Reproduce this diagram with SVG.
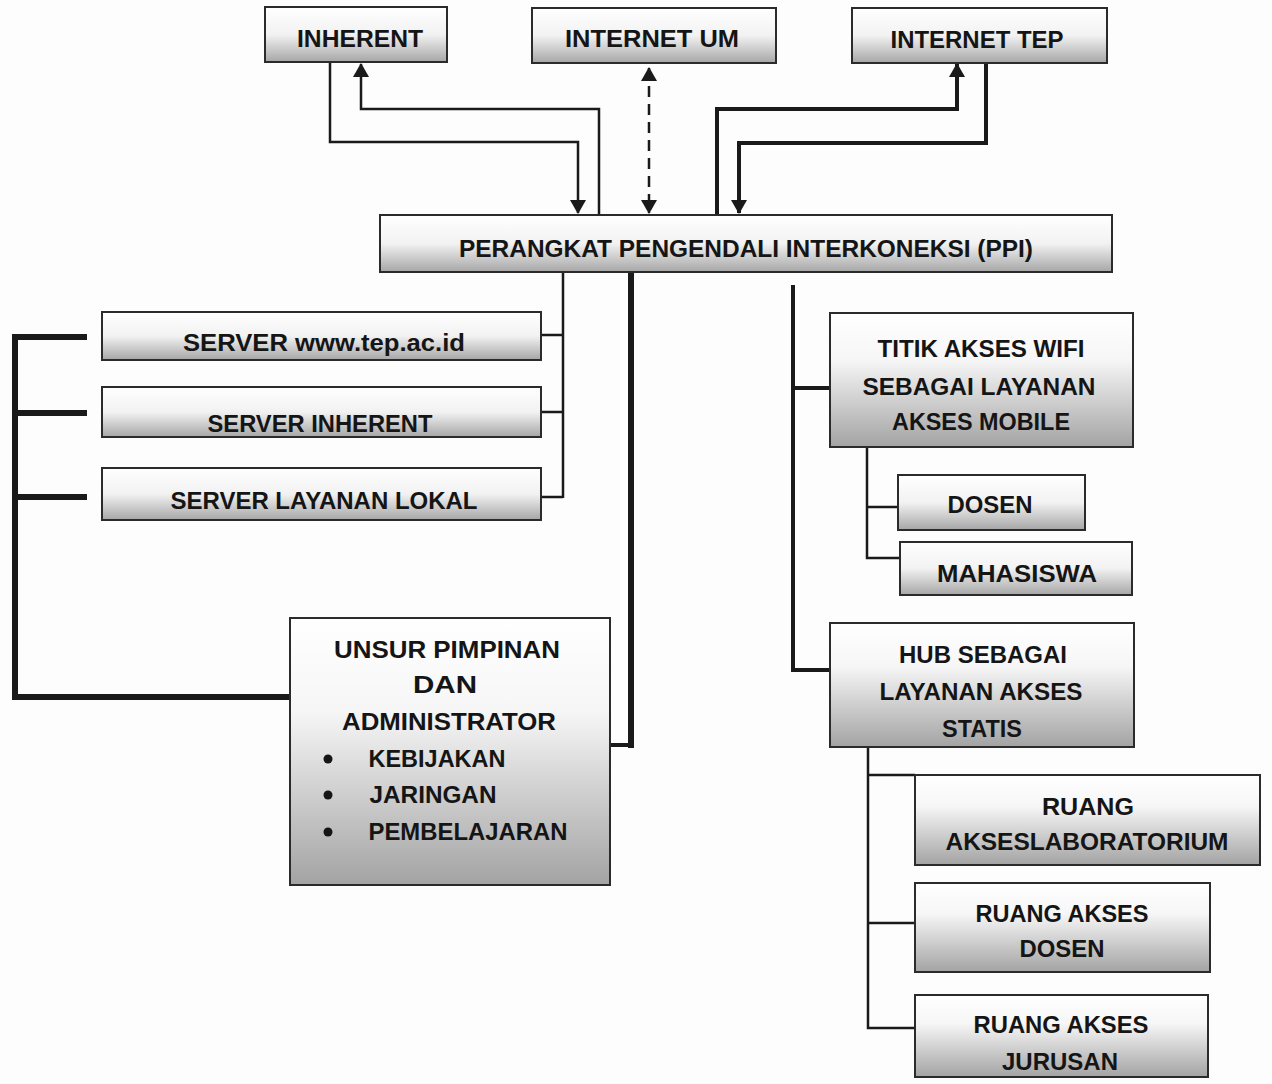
<svg xmlns="http://www.w3.org/2000/svg" width="1272" height="1084" viewBox="0 0 1272 1084">
<defs>
<linearGradient id="g1" x1="0" y1="0" x2="0" y2="1">
<stop offset="0" stop-color="#ffffff"/>
<stop offset="0.5" stop-color="#f2f2f2"/>
<stop offset="1" stop-color="#a6a6a6"/>
</linearGradient>
<linearGradient id="g2" x1="0" y1="0" x2="0" y2="1">
<stop offset="0" stop-color="#ffffff"/>
<stop offset="0.35" stop-color="#f6f6f6"/>
<stop offset="1" stop-color="#a3a3a3"/>
</linearGradient>
<marker id="ah" viewBox="0 0 14 16" markerWidth="14" markerHeight="16" refX="13" refY="8" orient="auto-start-reverse" markerUnits="userSpaceOnUse">
<path d="M0,0 L14,8 L0,16 z" fill="#1a1a1a"/>
</marker>
<style>
.box{stroke:#2b2b2b;stroke-width:2}
.b1{fill:url(#g1)}
.b2{fill:url(#g2)}
text{font-family:"Liberation Sans",Arial,sans-serif;font-weight:bold;font-size:23px;fill:#151515;text-anchor:middle}
.ln{fill:none;stroke:#1a1a1a;stroke-width:2.5}
.lt{fill:none;stroke:#1a1a1a;stroke-width:4}
.lk{fill:none;stroke:#1a1a1a;stroke-width:6}
</style>
</defs>
<rect width="1272" height="1084" fill="#fdfdfd"/>

<g id="connectors">
<path class="ln" d="M330,63 V142 H578 V213" marker-end="url(#ah)"/>
<path class="ln" d="M599,215 V109 H361 V64" marker-end="url(#ah)"/>
<path class="ln" d="M649,68 V213" stroke-dasharray="11 7" stroke-width="3" marker-start="url(#ah)" marker-end="url(#ah)"/>
<path class="lt" d="M717,215 V109 H957 V64" marker-end="url(#ah)"/>
<path class="lt" d="M986,63 V143 H739 V213" marker-end="url(#ah)"/>
<path class="ln" d="M563,272 V498 M541,335 H563 M541,412 H563 M541,497 H563" stroke-width="3"/>
<path class="lk" d="M631,272 V748" stroke-width="7"/>
<path class="lt" d="M610,745 H634"/>
<path class="lk" d="M15,334 V700 M12,697 H290"/>
<path class="lk" d="M15,337 H87 M15,413 H87 M15,497 H87" stroke-width="7"/>
<path class="lt" d="M793,285 V670 H830 M793,388 H830"/>
<path class="ln" d="M867,447 V558 H900 M867,507 H898" stroke-width="3"/>
<path class="ln" d="M868,747 V1028 H915 M868,775 H915 M868,923 H915" stroke-width="3"/>
</g>

<g id="n-inherent"><rect class="box b1" x="265" y="7" width="182" height="55"/><text x="360" y="47" textLength="126" lengthAdjust="spacingAndGlyphs">INHERENT</text></g>
<g id="n-internet-um"><rect class="box b1" x="532" y="8" width="244" height="55"/><text x="652" y="47" textLength="174" lengthAdjust="spacingAndGlyphs">INTERNET UM</text></g>
<g id="n-internet-tep"><rect class="box b1" x="852" y="8" width="255" height="55"/><text x="977" y="48" textLength="173" lengthAdjust="spacingAndGlyphs">INTERNET TEP</text></g>
<g id="n-ppi"><rect class="box b1" x="380" y="215" width="732" height="57"/><text x="746" y="257" textLength="574" lengthAdjust="spacingAndGlyphs">PERANGKAT PENGENDALI INTERKONEKSI (PPI)</text></g>

<g id="n-server-tep"><rect class="box b1" x="102" y="312" width="439" height="48"/><text x="324" y="351" textLength="282" lengthAdjust="spacingAndGlyphs">SERVER www.tep.ac.id</text></g>
<g id="n-server-inherent"><rect class="box b1" x="102" y="387" width="439" height="50"/><text x="320" y="432" textLength="225" lengthAdjust="spacingAndGlyphs">SERVER INHERENT</text></g>
<g id="n-server-lokal"><rect class="box b1" x="102" y="468" width="439" height="52"/><text x="324" y="509" textLength="307" lengthAdjust="spacingAndGlyphs">SERVER LAYANAN LOKAL</text></g>

<g id="n-unsur"><rect class="box b2" x="290" y="618" width="320" height="267"/>
<text x="447" y="658" textLength="226" lengthAdjust="spacingAndGlyphs">UNSUR PIMPINAN</text>
<text x="445" y="693" textLength="64" lengthAdjust="spacingAndGlyphs">DAN</text>
<text x="449" y="730" textLength="214" lengthAdjust="spacingAndGlyphs">ADMINISTRATOR</text>
<circle cx="328" cy="759" r="4.5" fill="#151515"/>
<circle cx="328" cy="795" r="4.5" fill="#151515"/>
<circle cx="328" cy="832" r="4.5" fill="#151515"/>
<text x="437" y="767" textLength="137" lengthAdjust="spacingAndGlyphs">KEBIJAKAN</text>
<text x="433" y="803" textLength="127" lengthAdjust="spacingAndGlyphs">JARINGAN</text>
<text x="468" y="840" textLength="199" lengthAdjust="spacingAndGlyphs">PEMBELAJARAN</text>
</g>

<g id="n-titik"><rect class="box b2" x="830" y="313" width="303" height="134"/>
<text x="981" y="357" textLength="207" lengthAdjust="spacingAndGlyphs">TITIK AKSES WIFI</text>
<text x="979" y="395" textLength="233" lengthAdjust="spacingAndGlyphs">SEBAGAI LAYANAN</text>
<text x="981" y="430" textLength="178" lengthAdjust="spacingAndGlyphs">AKSES MOBILE</text>
</g>
<g id="n-dosen"><rect class="box b1" x="898" y="475" width="187" height="55"/><text x="990" y="513" textLength="85" lengthAdjust="spacingAndGlyphs">DOSEN</text></g>
<g id="n-mahasiswa"><rect class="box b1" x="900" y="542" width="232" height="53"/><text x="1017" y="582" textLength="160" lengthAdjust="spacingAndGlyphs">MAHASISWA</text></g>

<g id="n-hub"><rect class="box b2" x="830" y="623" width="304" height="124"/>
<text x="983" y="663" textLength="168" lengthAdjust="spacingAndGlyphs">HUB SEBAGAI</text>
<text x="981" y="700" textLength="203" lengthAdjust="spacingAndGlyphs">LAYANAN AKSES</text>
<text x="982" y="737" textLength="80" lengthAdjust="spacingAndGlyphs">STATIS</text>
</g>
<g id="n-ruang-lab"><rect class="box b2" x="915" y="775" width="345" height="90"/>
<text x="1088" y="815" textLength="92" lengthAdjust="spacingAndGlyphs">RUANG</text>
<text x="1087" y="850" textLength="283" lengthAdjust="spacingAndGlyphs">AKSESLABORATORIUM</text>
</g>
<g id="n-ruang-dosen"><rect class="box b2" x="915" y="883" width="295" height="89"/>
<text x="1062" y="922" textLength="173" lengthAdjust="spacingAndGlyphs">RUANG AKSES</text>
<text x="1062" y="957" textLength="85" lengthAdjust="spacingAndGlyphs">DOSEN</text>
</g>
<g id="n-ruang-jurusan"><rect class="box b2" x="915" y="995" width="293" height="82"/>
<text x="1061" y="1033" textLength="175" lengthAdjust="spacingAndGlyphs">RUANG AKSES</text>
<text x="1060" y="1070" textLength="116" lengthAdjust="spacingAndGlyphs">JURUSAN</text>
</g>
</svg>
